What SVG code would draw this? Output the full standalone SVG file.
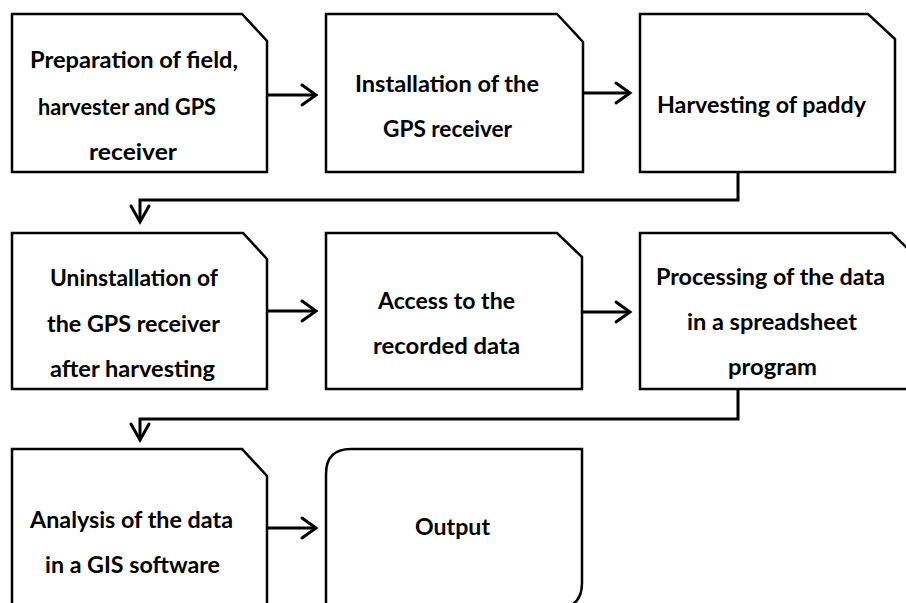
<svg xmlns="http://www.w3.org/2000/svg" width="906" height="603" viewBox="0 0 906 603">
<style>
.box{fill:#fff;stroke:#000;stroke-width:2.5;stroke-linejoin:miter}
.t{font-family:Lato,"Liberation Sans",sans-serif;font-weight:700;font-size:23px;fill:#000;text-anchor:middle}
.c{fill:none;stroke:#000;stroke-width:3}
.h{fill:none;stroke:#000;stroke-width:3;stroke-linecap:round;stroke-linejoin:miter}
</style>
<rect width="906" height="603" fill="#fff"/>
<g id="connectors">
<path class="c" d="M267 95 H314"/><path class="h" d="M302 85 L316 95 L302 105"/>
<path class="c" d="M583 93 H628"/><path class="h" d="M616 83 L630 93 L616 103"/>
<path class="c" d="M738 172 V200 H140 V220"/><path class="h" d="M131 206 L140 222 L149 206"/>
<path class="c" d="M267 311 H314"/><path class="h" d="M302 301 L316 311 L302 321"/>
<path class="c" d="M582 312 H628"/><path class="h" d="M616 302 L630 312 L616 322"/>
<path class="c" d="M738 389 V419 H140 V438"/><path class="h" d="M131 424 L140 440 L149 424"/>
<path class="c" d="M267 528 H314"/><path class="h" d="M302 518 L316 528 L302 538"/>
</g>
<g id="n1">
<path class="box" d="M12 14 H242 L267 41 V172 H12 Z"/>
<text class="t" x="134" y="68" textLength="208" lengthAdjust="spacingAndGlyphs">Preparation of field,</text>
<text class="t" x="127" y="115" textLength="178" lengthAdjust="spacingAndGlyphs">harvester and GPS</text>
<text class="t" x="133" y="160" textLength="88" lengthAdjust="spacingAndGlyphs">receiver</text>
</g>
<g id="n2">
<path class="box" d="M326 14 H557 L583 42 V172 H326 Z"/>
<text class="t" x="447" y="92" textLength="184" lengthAdjust="spacingAndGlyphs">Installation of the</text>
<text class="t" x="447.5" y="137" textLength="129" lengthAdjust="spacingAndGlyphs">GPS receiver</text>
</g>
<g id="n3">
<path class="box" d="M640 14 H868 L895 39 V172 H640 Z"/>
<text class="t" x="761.5" y="113" textLength="209" lengthAdjust="spacingAndGlyphs">Harvesting of paddy</text>
</g>
<g id="n4">
<path class="box" d="M12 233 H243 L267 259 V389 H12 Z"/>
<text class="t" x="134" y="286" textLength="168" lengthAdjust="spacingAndGlyphs">Uninstallation of</text>
<text class="t" x="133.5" y="332" textLength="173" lengthAdjust="spacingAndGlyphs">the GPS receiver</text>
<text class="t" x="132.5" y="377" textLength="165" lengthAdjust="spacingAndGlyphs">after harvesting</text>
</g>
<g id="n5">
<path class="box" d="M326 233 H557 L582 257 V389 H326 Z"/>
<text class="t" x="446.5" y="309" textLength="137" lengthAdjust="spacingAndGlyphs">Access to the</text>
<text class="t" x="446.5" y="354" textLength="147" lengthAdjust="spacingAndGlyphs">recorded data</text>
</g>
<g id="n6">
<path class="box" d="M640 233 H892 L918 259 V389 H640 Z"/>
<text class="t" x="770.5" y="285" textLength="229" lengthAdjust="spacingAndGlyphs">Processing of the data</text>
<text class="t" x="772" y="330" textLength="170" lengthAdjust="spacingAndGlyphs">in a spreadsheet</text>
<text class="t" x="772.5" y="375" textLength="89" lengthAdjust="spacingAndGlyphs">program</text>
</g>
<g id="n7">
<path class="box" d="M12 449 H242 L267 476 V610 H12 Z"/>
<text class="t" x="131.5" y="528" textLength="203" lengthAdjust="spacingAndGlyphs">Analysis of the data</text>
<text class="t" x="132.5" y="573" textLength="175" lengthAdjust="spacingAndGlyphs">in a GIS software</text>
</g>
<g id="n8">
<path class="box" d="M351 449 H582 V583 Q582 608 557 608 H326 V474 Q326 449 351 449 Z"/>
<text class="t" x="452.5" y="535" textLength="75" lengthAdjust="spacingAndGlyphs">Output</text>
</g>
</svg>
